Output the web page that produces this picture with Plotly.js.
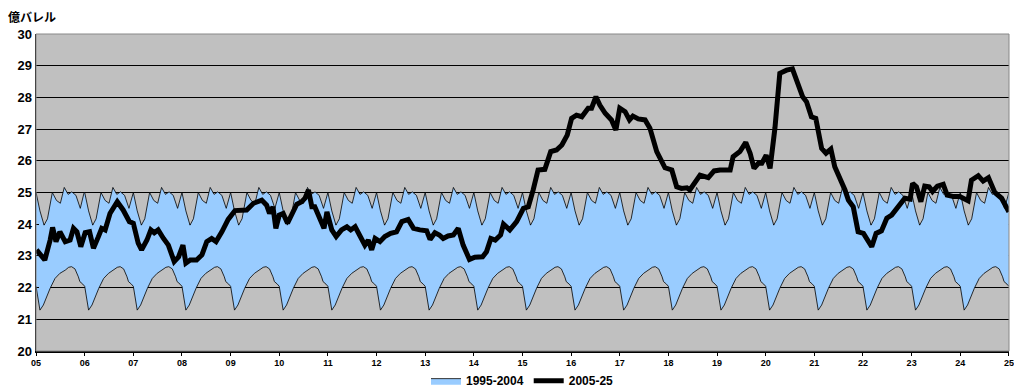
<!DOCTYPE html>
<html>
<head>
<meta charset="utf-8">
<script src="https://cdn.plot.ly/plotly-3.0.1.min.js"></script>
<style>html,body{margin:0;padding:0;background:#fff;}#chart{width:1014px;height:390px;}</style>
</head>
<body>
<div id="chart"></div>
<script>
// x-axis tick labels (years)
const tickYears = [2005,2006,2007,2008,2009,2010,2011,2012,2013,2014,2015,2016,2017,2018,2019,2020,2021,2022,2023,2024,2025];
const tickLabels = ['05','06','07','08','09','10','11','12','13','14','15','16','17','18','19','20','21','22','23','24','25'];

// 1995-2004 range: seasonal profile within one year (fraction of year, value), repeated every year
const upperPhase = [0, 0.08, 0.165, 0.235, 0.335, 0.42, 0.50, 0.58, 0.66, 0.735, 0.82, 0.91, 0.985];
const upperVals  = [25.0, 24.42, 23.97, 24.17, 25.0, 24.75, 24.66, 25.16, 24.94, 25.02, 24.91, 24.5, 24.98];
const lowerPhase = [0, 0.08, 0.15, 0.29, 0.39, 0.49, 0.60, 0.67, 0.73, 0.80, 0.87, 0.90, 0.96];
const lowerVals  = [22.04, 21.29, 21.45, 21.98, 22.29, 22.45, 22.55, 22.64, 22.66, 22.59, 22.34, 22.19, 22.11];

// 2005-25 series (decimal year, 億バレル)
const oilX = [2005.01,2005.18,2005.29,2005.34,2005.41,2005.49,2005.60,2005.70,2005.77,2005.84,2005.92,
2006.01,2006.10,2006.18,2006.28,2006.35,2006.42,2006.52,2006.67,2006.79,2006.92,
2007.00,2007.10,2007.17,2007.28,2007.36,2007.43,2007.51,2007.62,2007.72,2007.84,2007.93,
2008.02,2008.08,2008.17,2008.30,2008.41,2008.51,2008.61,2008.70,2008.82,2008.95,
2009.09,2009.23,2009.33,2009.47,2009.64,2009.74,2009.80,2009.87,2009.93,
2010.00,2010.08,2010.17,2010.26,2010.36,2010.46,2010.53,2010.60,2010.67,2010.73,2010.82,2010.92,2010.98,
2011.08,2011.17,2011.28,2011.39,2011.47,2011.56,2011.66,2011.76,2011.83,2011.90,2011.97,
2012.07,2012.17,2012.29,2012.41,2012.52,2012.65,2012.76,2012.89,
2013.03,2013.10,2013.20,2013.29,2013.37,2013.47,2013.58,2013.68,2013.78,2013.91,
2014.02,2014.18,2014.26,2014.35,2014.44,2014.55,2014.61,2014.74,2014.88,
2015.02,2015.12,2015.22,2015.32,2015.46,2015.58,2015.70,2015.81,2015.92,
2016.01,2016.11,2016.22,2016.35,2016.42,2016.51,2016.59,2016.70,2016.83,2016.92,
2017.00,2017.11,2017.20,2017.27,2017.38,2017.52,2017.62,2017.76,2017.86,2017.93,
2018.07,2018.17,2018.27,2018.38,2018.44,2018.55,2018.65,2018.82,2018.94,
2019.06,2019.27,2019.33,2019.47,2019.59,2019.68,2019.76,2019.85,2019.92,
2020.01,2020.09,2020.19,2020.29,2020.43,2020.55,2020.64,2020.76,2020.84,2020.94,
2021.03,2021.15,2021.24,2021.34,2021.42,2021.53,2021.63,2021.70,2021.80,2021.90,
2022.01,2022.18,2022.27,2022.38,2022.49,2022.59,2022.72,2022.86,2022.97,
2023.02,2023.10,2023.19,2023.27,2023.36,2023.43,2023.53,2023.65,2023.73,2023.86,2023.99,
2024.16,2024.23,2024.37,2024.47,2024.58,2024.71,2024.85,2025.0];
const oilY = [23.19,22.87,23.5,23.9,23.45,23.76,23.45,23.5,23.87,23.76,23.29,
23.73,23.76,23.24,23.6,23.87,23.82,24.34,24.71,24.45,24.08,
24.03,23.4,23.19,23.5,23.82,23.73,23.82,23.55,23.34,22.82,22.97,
23.34,22.77,22.87,22.87,23.03,23.45,23.55,23.45,23.76,24.15,
24.43,24.45,24.45,24.66,24.76,24.6,24.34,24.55,23.87,
24.29,24.34,24.03,24.34,24.63,24.71,24.82,25.08,24.55,24.55,24.24,23.87,24.39,
23.82,23.61,23.82,23.92,23.82,23.92,23.66,23.34,23.5,23.19,23.55,
23.45,23.61,23.71,23.76,24.08,24.15,23.87,23.82,
23.79,23.52,23.73,23.66,23.55,23.63,23.66,23.87,23.34,22.89,
22.96,22.97,23.13,23.55,23.5,23.66,24.0,23.82,24.08,
24.5,24.55,25.08,25.71,25.73,26.29,26.34,26.5,26.81,
27.34,27.44,27.39,27.66,27.66,28.02,27.76,27.5,27.29,26.97,
27.66,27.55,27.29,27.41,27.32,27.29,27.03,26.29,26.03,25.78,
25.71,25.18,25.13,25.15,25.08,25.34,25.55,25.47,25.68,
25.71,25.71,26.13,26.29,26.58,26.24,25.76,25.92,25.92,
26.18,25.76,27.03,28.76,28.86,28.9,28.55,28.02,27.86,27.39,
27.34,26.39,26.24,26.37,25.81,25.45,25.08,24.76,24.55,23.76,
23.71,23.29,23.71,23.79,24.19,24.29,24.55,24.82,24.79,
25.29,25.18,24.71,25.2,25.18,25.03,25.2,25.26,24.92,24.87,24.87,
24.74,25.39,25.53,25.36,25.47,25.0,24.82,24.39];

function tile(phase, vals){
  const x=[], y=[];
  for(let yr=2005; yr<2025; yr++){
    for(let i=0;i<phase.length;i++){ x.push(yr+phase[i]); y.push(vals[i]); }
  }
  x.push(2025); y.push(vals[0]);
  return {x,y};
}
const up = tile(upperPhase, upperVals);
const lo = tile(lowerPhase, lowerVals);

const traces = [
  {x: up.x, y: up.y, type:'scatter', mode:'lines', line:{color:'#000', width:0.8}, showlegend:false, hoverinfo:'skip'},
  {x: lo.x, y: lo.y, type:'scatter', mode:'lines', name:'1995-2004', fill:'tonexty', fillcolor:'#99CCFF', line:{color:'#000', width:0.8}},
  {x: oilX, y: oilY, type:'scatter', mode:'lines', name:'2005-25', line:{color:'#000', width:5}}
];

const layout = {
  width:1014, height:390,
  margin:{l:36, r:5, t:34, b:39, autoexpand:false},
  paper_bgcolor:'#fff', plot_bgcolor:'#C0C0C0',
  font:{family:'"Liberation Sans", Arial, sans-serif', color:'#000'},
  title:{text:'億バレル', xref:'container', yref:'container', x:0.008, xanchor:'left', y:0.955, yanchor:'middle',
         font:{family:'"Noto Sans CJK JP", sans-serif', size:12, weight:'bold', color:'#000'}},
  xaxis:{range:[2004.999,2025.002], tickvals:tickYears, ticktext:tickLabels, ticks:'outside', ticklen:3, tickcolor:'#000',
         showgrid:false, zeroline:false, showline:true, linecolor:'#000', linewidth:1.5,
         tickfont:{size:9, weight:'bold'}},
  yaxis:{range:[20,30], dtick:1, ticks:'inside', ticklen:3, tickcolor:'#000', showgrid:true, gridcolor:'#000', gridwidth:1,
         zeroline:false, showline:true, linecolor:'#000', linewidth:1.5, tickfont:{size:13, weight:'bold'}},
  shapes:[{type:'rect', xref:'paper', yref:'paper', x0:0, x1:1, y0:0, y1:1, line:{color:'#888', width:1}, layer:'above'}],
  legend:{orientation:'h', x:0.5, xanchor:'center', yref:'container', y:0.024, yanchor:'middle', font:{size:12, weight:'bold'}, bgcolor:'rgba(0,0,0,0)', traceorder:'normal'},
  showlegend:true
};
Plotly.newPlot('chart', traces, layout, {displayModeBar:false, staticPlot:true});
</script>
</body>
</html>
